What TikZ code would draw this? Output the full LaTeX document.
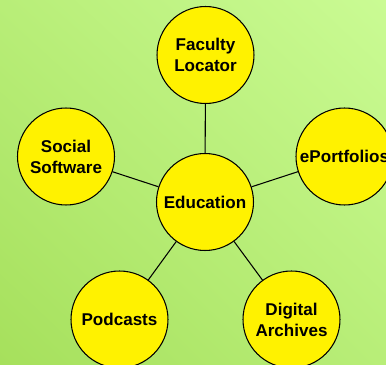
\documentclass[tikz,border=0pt]{standalone}
\usepackage{fontspec}
\setmainfont{Liberation Sans}
\usetikzlibrary{shadings}
\definecolor{bgdark}{RGB}{166,224,92}
\definecolor{bgmid}{RGB}{184,238,120}
\definecolor{bglight}{RGB}{202,251,148}
\tikzset{
  topic/.style={
    circle,
    draw=black,
    fill=yellow,
    line width=0.6pt,
    minimum size=1.94cm,
    inner sep=0pt,
    text centered,
    align=center,
    font=\bfseries
  },
}

\begin{document}
\begin{tikzpicture}[x=0.02cm, y=-0.02cm, line width=0.6pt]
  \fontsize{9.7}{12}\selectfont
  \useasboundingbox (0, 0) rectangle (386, 365);
  \shade[lower left=bgdark, upper right=bglight, upper left=bgmid, lower right=bgmid]
    (0, 0) rectangle (386, 365);
  \clip (0, 0) rectangle (386, 365);
  \node[topic, anchor=center] (a) at (205, 202) {Education};
  \node[topic, anchor=center] (b) at (205.5, 55) {Faculty\\Locator};
  \node[topic, anchor=center] (c) at (66, 156.5) {Social\\Software};
  \node[topic, anchor=center] (d) at (344.5, 156.5) {ePortfolios};
  \node[topic, anchor=center] (e) at (119.5, 319.5) {Podcasts};
  \node[topic, anchor=center] (f) at (291.5, 319.5) {Digital\\Archives};
  \draw (a) -- (b);
  \draw (a) -- (c);
  \draw (a) -- (d);
  \draw (a) -- (e);
  \draw (a) -- (f);
\end{tikzpicture}
\end{document}
